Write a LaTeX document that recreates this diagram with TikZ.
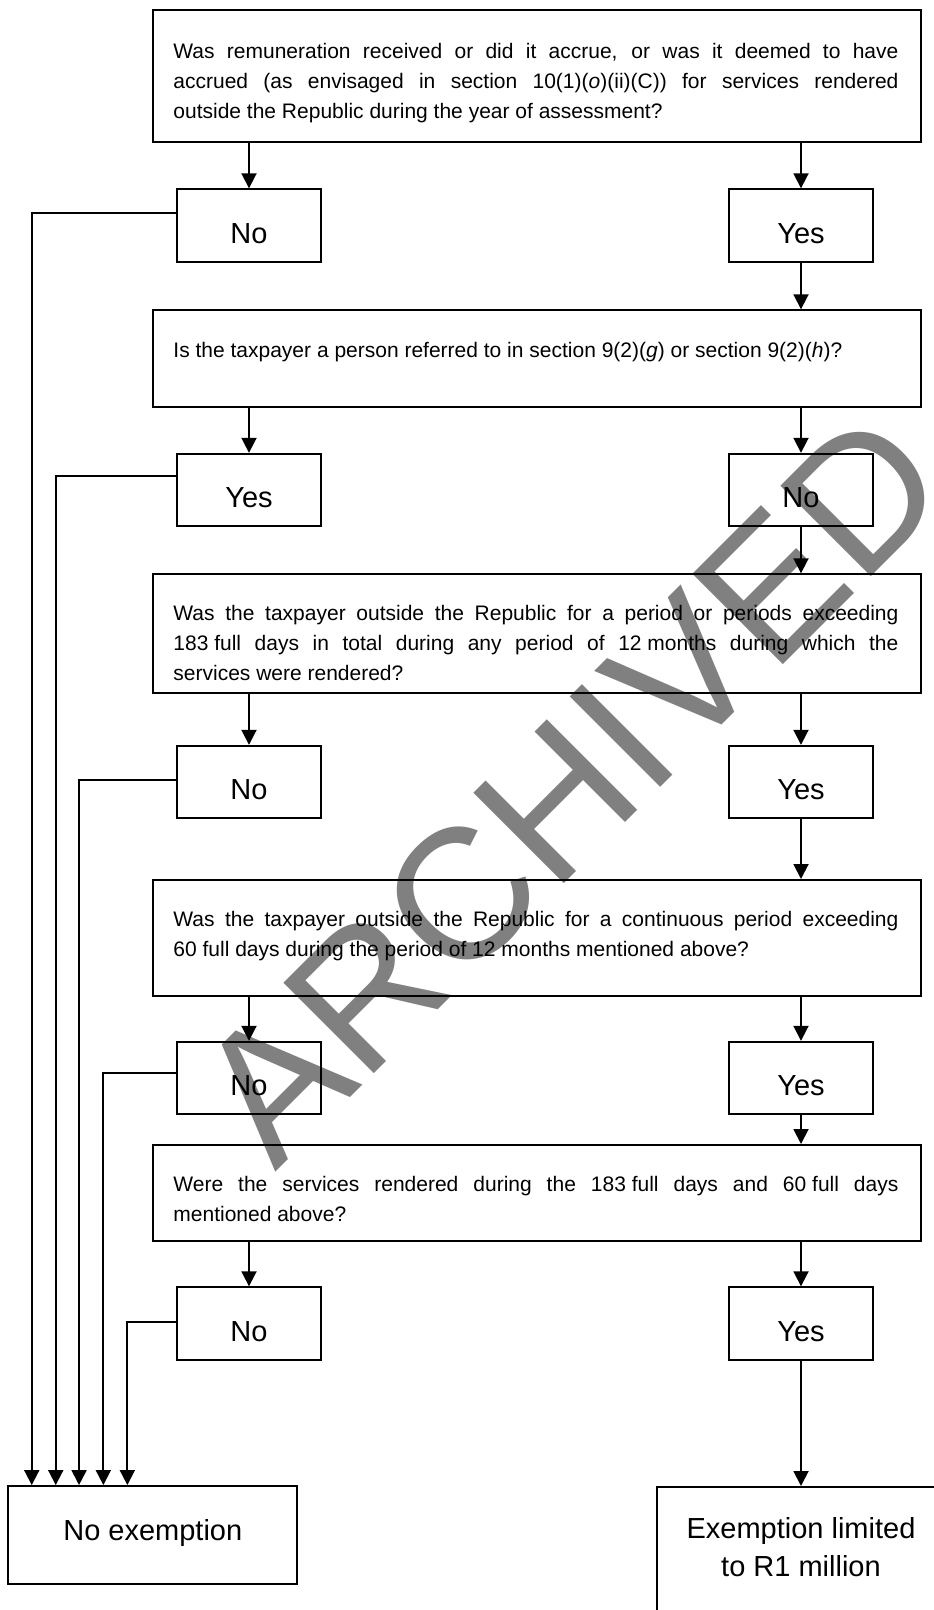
\documentclass[tikz,border=0pt]{standalone}
\usepackage{fontspec}
\setmainfont{Liberation Sans}
\usetikzlibrary{arrows.meta}
\hbadness=10000
\newcommand\jline[1]{\hbox to 725pt{#1}}
\newcommand\lastln[1]{\hbox{#1}}
\newcommand\qtext[1]{\vtop{\baselineskip=30pt\relax #1}}
\newcommand\qfont{\fontsize{21pt}{30pt}\selectfont}
\newcommand\lfont{\fontsize{29pt}{38.4pt}\selectfont}
\newcommand\extext{\vtop{\baselineskip=38.4pt\relax\halign{\hfil##\hfil\cr Exemption limited\cr to R1 million\cr}}}
\definecolor{wmgray}{HTML}{808080}
\begin{document}
\begin{tikzpicture}[x=1pt,y=1pt,line width=1.9pt,
  frame/.style={draw, rectangle, inner sep=0pt, anchor=north west, minimum width=768pt},
  qtxt/.style={inner sep=0pt, anchor=base west, font=\qfont},
  small/.style={draw, rectangle, inner sep=0pt, minimum width=144pt, minimum height=72.5pt,
                text height=35pt, text depth=0pt, font=\lfont},
  arr/.style={-{Triangle[length=15pt,width=15pt]}}]
\useasboundingbox (0,0) rectangle (934,-1610);
\clip (0,0) rectangle (934,-1610);
% watermark
\node[text=wmgray, rotate=45, font=\fontsize{186pt}{186pt}\selectfont, inner sep=0pt] (wm) at (570,-787) {ARCHIVED};
% question boxes
\node[frame, minimum height=131.7pt] (q1) at (152,-9.3) {};
\node[qtxt] (q1t) at (172.5,-58) {\qtext{%
 \jline{Was remuneration received or did it accrue, or was it deemed to have}%
 \jline{accrued (as envisaged in section 10(1)(\textit{o})(ii)(C)) for services rendered}%
 \lastln{outside the Republic during the year of assessment?}}};
\node[frame, minimum height=96.7pt] (q2) at (152,-309.3) {};
\node[qtxt] (q2t) at (172.5,-357.3) {\qtext{%
 \lastln{Is the taxpayer a person referred to in section 9(2)(\textit{g}) or section 9(2)(\textit{h})?}}};
\node[frame, minimum height=118.4pt] (q3) at (152,-573.3) {};
\node[qtxt] (q3t) at (172.5,-620) {\qtext{%
 \jline{Was the taxpayer outside the Republic for a period or periods exceeding}%
 \jline{\mbox{183 full} days in total during any period of \mbox{12 months} during which the}%
 \lastln{services were rendered?}}};
\node[frame, minimum height=116pt] (q4) at (152,-879) {};
\node[qtxt] (q4t) at (172.5,-926.7) {\qtext{%
 \jline{Was the taxpayer outside the Republic for a continuous period exceeding}%
 \lastln{60 full days during the period of 12 months mentioned above?}}};
\node[frame, minimum height=96pt] (q5) at (152,-1144) {};
\node[qtxt] (q5t) at (172.5,-1191.7) {\qtext{%
 \jline{Were the services rendered during the \mbox{183 full} days and \mbox{60 full} days}%
 \lastln{mentioned above?}}};
% answer boxes
\node[small] (a1) at (249,-225.5) {No};
\node[small] (b1) at (801,-225.5) {Yes};
\node[small] (a2) at (249,-490) {Yes};
\node[small] (b2) at (801,-490) {No};
\node[small] (a3) at (249,-782) {No};
\node[small] (b3) at (801,-782) {Yes};
\node[small] (a4) at (249,-1078) {No};
\node[small] (b4) at (801,-1078) {Yes};
\node[small] (a5) at (249,-1323.5) {No};
\node[small] (b5) at (801,-1323.5) {Yes};
% end boxes
\node[draw, rectangle, inner sep=0pt, minimum width=289pt, minimum height=98pt,
      text height=10pt, text depth=0pt, font=\lfont] (ne) at (152.8,-1535) {No exemption};
\node[draw, rectangle, inner sep=0pt, anchor=north west, minimum width=290.3pt, minimum height=154pt] (ex) at (655.7,-1486) {};
\node[inner sep=0pt, anchor=base, font=\lfont] (ext) at (801,-1538.3) {\extext};
% connectors down the columns
\draw[arr] (q1.south -| a1) -- (a1.north);
\draw[arr] (q1.south -| b1) -- (b1.north);
\draw[arr] (b1.south) -- (b1.south |- q2.north);
\draw[arr] (q2.south -| a2) -- (a2.north);
\draw[arr] (q2.south -| b2) -- (b2.north);
\draw[arr] (b2.south) -- (b2.south |- q3.north);
\draw[arr] (q3.south -| a3) -- (a3.north);
\draw[arr] (q3.south -| b3) -- (b3.north);
\draw[arr] (b3.south) -- (b3.south |- q4.north);
\draw[arr] (q4.south -| a4) -- (a4.north);
\draw[arr] (q4.south -| b4) -- (b4.north);
\draw[arr] (b4.south) -- (b4.south |- q5.north);
\draw[arr] (q5.south -| a5) -- (a5.north);
\draw[arr] (q5.south -| b5) -- (b5.north);
\draw[arr] (b5.south) -- (b5.south |- ex.north);
% connectors to No exemption
\draw[arr] ([yshift=-25pt]a1.north west) -| ([xshift=24.4pt]ne.north west);
\draw[arr] ([yshift=-23.3pt]a2.north west) -| ([xshift=48.4pt]ne.north west);
\draw[arr] ([yshift=-35pt]a3.north west) -| ([xshift=71.7pt]ne.north west);
\draw[arr] ([yshift=-32.3pt]a4.north west) -| ([xshift=96pt]ne.north west);
\draw[arr] ([yshift=-36pt]a5.north west) -| ([xshift=120pt]ne.north west);
\end{tikzpicture}
\end{document}
